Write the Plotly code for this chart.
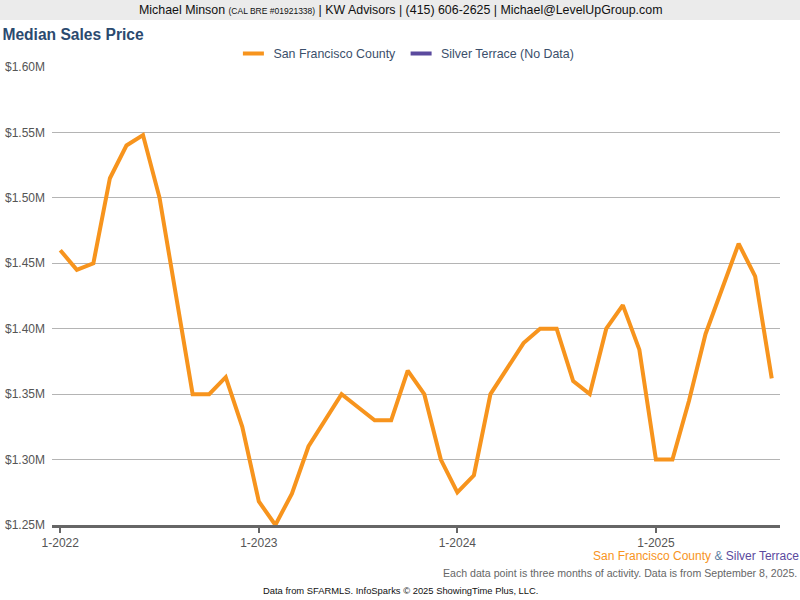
import plotly.graph_objs as go

# Monthly labels, Jan 2022 .. Aug 2025
months = [f"{m}-{y}" for y in (2022, 2023, 2024, 2025) for m in range(1, 13)][:44]

# Median sales price, San Francisco County (rolling 3 months)
sf_county = [
    1460000, 1445000, 1450000, 1515000, 1540000, 1548000, 1500000, 1425000,
    1350000, 1350000, 1363000, 1325000, 1268000, 1250000, 1274000, 1310000,
    1330000, 1350000, 1340000, 1330000, 1330000, 1368000, 1350000, 1300000,
    1275000, 1288000, 1350000, 1370000, 1389000, 1400000, 1400000, 1360000,
    1350000, 1400000, 1418000, 1384000, 1300000, 1300000, 1345000, 1396000,
    1431000, 1465000, 1440000, 1362000,
]

year_ticks = ["1-2022", "1-2023", "1-2024", "1-2025"]
y_ticks = [1250000, 1300000, 1350000, 1400000, 1450000, 1500000, 1550000, 1600000]
y_labels = ["$1.25M", "$1.30M", "$1.35M", "$1.40M", "$1.45M", "$1.50M", "$1.55M", "$1.60M"]

ORANGE = "#F7941D"
PURPLE = "#5B4A9E"
FONT = "Liberation Sans, Arial, sans-serif"

fig = go.Figure()
fig.add_trace(go.Scatter(
    x=months, y=sf_county, mode="lines", name="San Francisco County",
    line=dict(color=ORANGE, width=4), showlegend=False,
))

# legend entries: short thick bars like the original
for name, color in [("San Francisco County", ORANGE), ("Silver Terrace (No Data)", PURPLE)]:
    fig.add_trace(go.Scatter(
        x=[None], y=[None], mode="markers", name=name,
        marker=dict(symbol="line-ew-open", size=15, color=color,
                    line=dict(color=color, width=4)),
    ))

fig.update_layout(
    width=800, height=600,
    margin=dict(l=52, r=20, t=67, b=75, autoexpand=False),
    paper_bgcolor="white", plot_bgcolor="white",
    font=dict(family=FONT, size=12, color="#555555"),
    title=dict(
        text="<b>Median Sales Price</b>", x=0.003, xanchor="left",
        y=1 - 35 / 600, yanchor="middle", automargin=False,
        font=dict(family=FONT, size=15.6, color="#2B4A6F"),
    ),
    legend=dict(
        orientation="h", x=0.508, xanchor="center", xref="container",
        y=1 - 54 / 600, yanchor="middle", yref="container",
        font=dict(family=FONT, size=12.4, color="#3B4F6B"),
        itemwidth=30, tracegroupgap=0,
    ),
    showlegend=True,
)

fig.update_xaxes(
    type="category", range=[-0.5, 43.5], automargin=False,
    tickmode="array", tickvals=year_ticks, ticktext=year_ticks,
    ticks="outside", ticklen=5, tickwidth=2, tickcolor="#666666",
    showline=True, linecolor="#666666", linewidth=3,
    showgrid=False, tickfont=dict(size=12, color="#555555"),
)
fig.update_yaxes(
    range=[1250000, 1600000], tickmode="array", automargin=False,
    tickvals=y_ticks, ticktext=y_labels,
    showgrid=True, gridcolor="#B4B4B4", gridwidth=1,
    zeroline=False, showline=False, ticks="", ticklabelstandoff=6,
    tickfont=dict(size=12, color="#555555"),
)

# header band
fig.add_shape(
    type="rect", xref="paper", yref="paper",
    x0=-52 / 728, x1=748 / 728, y0=505 / 458, y1=525 / 458 + 0.01,
    fillcolor="#EBEBEB", line=dict(width=0), layer="below",
)
fig.add_annotation(
    xref="paper", yref="paper", x=348 / 728, y=515 / 458,
    xanchor="center", yanchor="middle", showarrow=False,
    text="Michael Minson <span style='font-size:8.5px'>(CAL BRE #01921338)</span>"
         " | KW Advisors | (415) 606-2625 | Michael@LevelUpGroup.com",
    font=dict(family=FONT, size=12.4, color="#111111"),
)

# footer texts
fig.add_annotation(
    xref="paper", yref="paper", x=748 / 728, y=(525 - 556) / 458,
    xanchor="right", yanchor="middle", showarrow=False, borderpad=0,
    text=f"<span style='color:{ORANGE}'>San Francisco County</span>"
         " <span style='color:#5C7BA0'>&</span> "
         f"<span style='color:{PURPLE}'>Silver Terrace</span>",
    font=dict(family=FONT, size=12),
)
fig.add_annotation(
    xref="paper", yref="paper", x=746 / 728, y=(525 - 573) / 458,
    xanchor="right", yanchor="middle", showarrow=False, borderpad=0,
    text="Each data point is three months of activity. Data is from September 8, 2025.",
    font=dict(family=FONT, size=10.6, color="#666666"),
)
fig.add_annotation(
    xref="paper", yref="paper", x=348 / 728, y=(525 - 590) / 458,
    xanchor="center", yanchor="middle", showarrow=False,
    text="Data from SFARMLS. InfoSparks © 2025 ShowingTime Plus, LLC.",
    font=dict(family=FONT, size=9.4, color="#111111"),
)

# page body has a default 8px margin; drop it so the figure fills the window
fig.write_html("out.html", config={"displayModeBar": False},
               post_script="document.body.style.margin='0px';")
